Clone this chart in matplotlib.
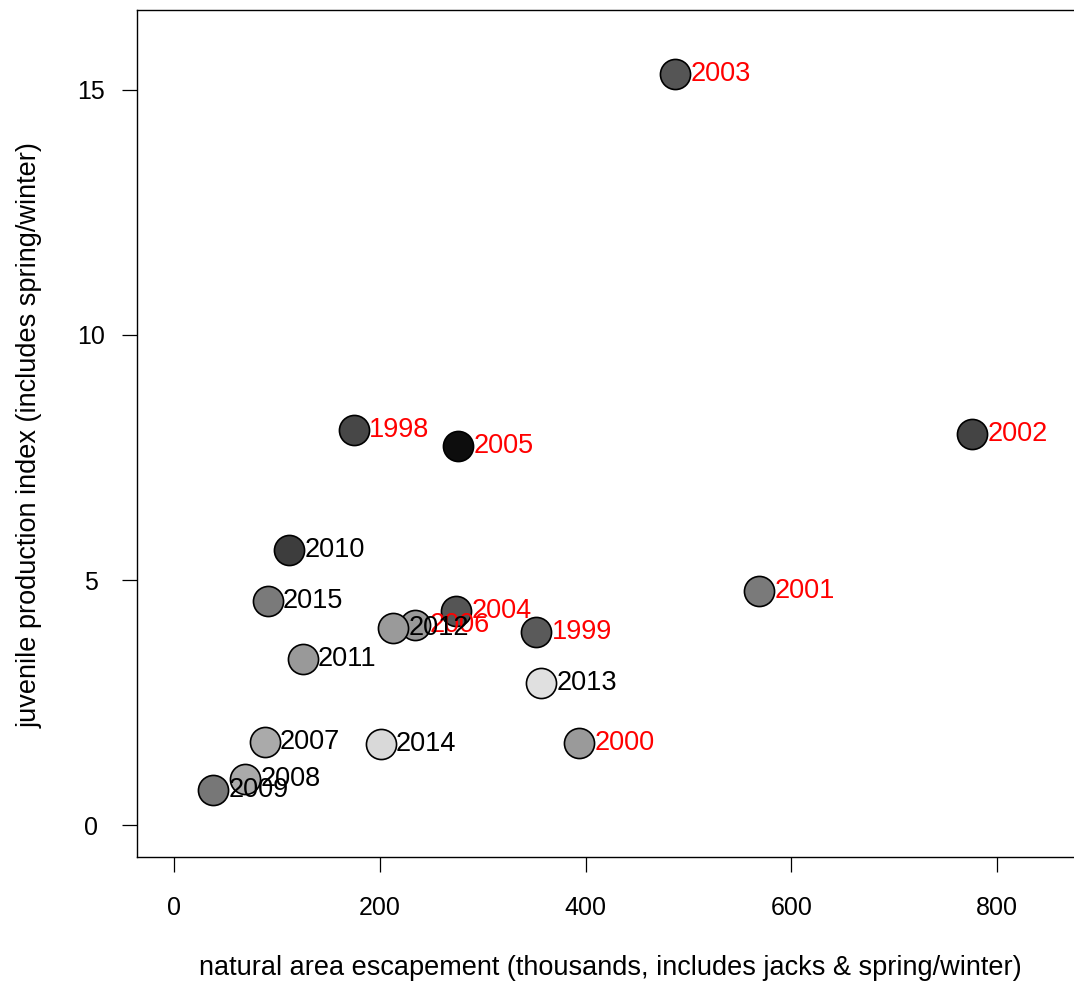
import matplotlib
matplotlib.use("Agg")
import matplotlib.pyplot as plt

plt.rcParams['font.family'] = ['Liberation Sans', 'DejaVu Sans']

years = [1998, 1999, 2000, 2001, 2002, 2003, 2004, 2005, 2006,
         2007, 2008, 2009, 2010, 2011, 2012, 2013, 2014, 2015]
escapement = [175, 352, 394, 569, 776, 487, 274, 276, 234,
              88, 69, 38, 112, 125, 213, 357, 201, 91]
jpi = [8.06, 3.94, 1.67, 4.78, 7.98, 15.33, 4.37, 7.73, 4.08,
       1.69, 0.94, 0.71, 5.61, 3.39, 4.02, 2.90, 1.65, 4.57]
fill_grays = ['#474747', '#5a5a5a', '#9a9a9a', '#7a7a7a', '#444444', '#555555',
              '#555555', '#0d0d0d', '#999999', '#aaaaaa', '#aaaaaa', '#777777',
              '#3d3d3d', '#999999', '#9a9a9a', '#e0e0e0', '#d9d9d9', '#7a7a7a']
label_colors = ['red'] * 9 + ['black'] * 9
x_ticks = [0, 200, 400, 600, 800]
y_ticks = [0, 5, 10, 15]

W, H = 1074, 989
fig = plt.figure(figsize=(W / 100, H / 100), dpi=100)
left, right, top, bottom = 137, 1083, 10, 857
ax = fig.add_axes([left / W, 1 - bottom / H, (right - left) / W, (bottom - top) / H])
ax.set_xlim(-36, 883.6)
ax.set_ylim(-0.65, 16.63)

for x, y, c in zip(escapement, jpi, fill_grays):
    ax.scatter([x], [y], s=470, c=c, edgecolors='black', linewidths=1.2, zorder=3)
for x, y, yr, lc in zip(escapement, jpi, years, label_colors):
    ax.annotate(str(yr), (x, y), xytext=(11, 0), textcoords='offset points',
                ha='left', va='center', color=lc, fontsize=19.5, zorder=4)

ax.set_xticks(x_ticks)
ax.set_yticks(y_ticks)
ax.tick_params(axis='both', direction='out', length=11, width=0.9, labelsize=18, color='black')
ax.tick_params(axis='x', pad=17)
ax.tick_params(axis='y', pad=22)
for lab in ax.get_yticklabels():
    lab.set_ha('center')
for sp in ax.spines.values():
    sp.set_linewidth(1.0)

fig.text(610 / W, 1 - 968 / H, 'natural area escapement (thousands, includes jacks & spring/winter)',
         ha='center', va='center', fontsize=19.5)
fig.text(30 / W, 1 - 435 / H, 'juvenile production index (includes spring/winter)',
         ha='center', va='center', rotation=90, fontsize=19.5)

fig.savefig('out.png', dpi=100)
